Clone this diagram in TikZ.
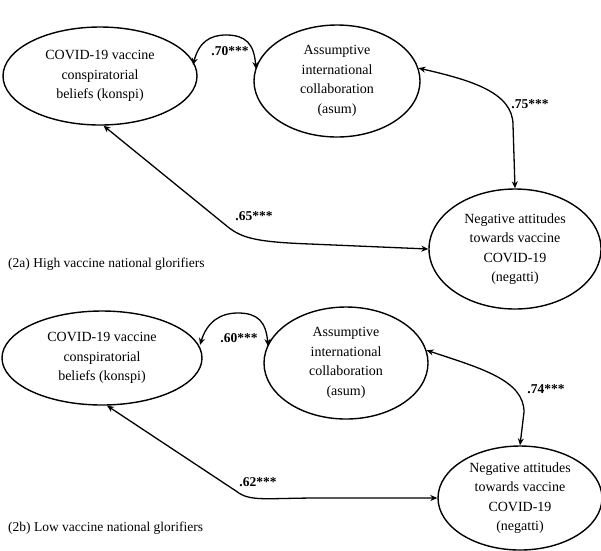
\documentclass[tikz,border=0pt]{standalone}
\usepackage{fontspec}
\setmainfont{Liberation Serif}
\usetikzlibrary{shapes.geometric,arrows.meta}
\tikzset{
  latent/.style={ellipse, draw, line width=1.4pt, inner sep=0pt, align=center,
    font=\fontsize{14}{19.5}\selectfont},
  cov/.style={line width=1.3pt, {Stealth[length=7pt,width=6pt]}-{Stealth[length=7pt,width=6pt]}},
  coef/.style={font=\fontsize{13.5}{15}\selectfont\bfseries, inner sep=0pt},
  capt/.style={font=\fontsize{13.5}{16}\selectfont, anchor=west, inner sep=0pt}
}
\begin{document}
\begin{tikzpicture}[x=1pt,y=-1pt]
\useasboundingbox (0,0) rectangle (601,550);
% ---------- panel 2a ----------
\node[latent, minimum width=194pt, minimum height=98pt] (k1) at (100,76) {COVID-19 vaccine\\conspiratorial\\beliefs (konspi)};
\node[latent, minimum width=166pt, minimum height=112pt] (a1) at (337,81) {Assumptive\\international\\collaboration\\(asum)};
\node[latent, minimum width=172pt, minimum height=120pt] (n1) at (515,249) {Negative attitudes\\towards vaccine\\COVID-19\\(negatti)};
\coordinate (k1e) at (193,65);
\coordinate (a1w) at (256,69);
\draw[cov] (k1e) .. controls (199,42) and (210,35) .. (226,35) .. controls (246,35) and (254,44) .. (a1w);
\draw[cov] (a1.9) .. controls (470,80) and (513,92) .. (513,125) -- (n1.north);
\draw[cov] (k1.-86) -- (228,227) .. controls (242,238) and (256,242) .. (310,244) -- (n1.west);
\node[coef] (c70) at (230,51) {.70***};
\node[coef] (c75) at (530,104) {.75***};
\node[coef] (c65) at (254,216) {.65***};
\node[capt] (cap1) at (8,264) {(2a) High vaccine national glorifiers};
% ---------- panel 2b ----------
\node[latent, minimum width=200pt, minimum height=94pt] (k2) at (102,358) {COVID-19 vaccine\\conspiratorial\\beliefs (konspi)};
\node[latent, minimum width=164pt, minimum height=112pt] (a2) at (346,363) {Assumptive\\international\\collaboration\\(asum)};
\node[latent, minimum width=164pt, minimum height=104pt] (n2) at (520,498) {Negative attitudes\\towards vaccine\\COVID-19\\(negatti)};
\coordinate (k2e) at (200,345);
\coordinate (a2w) at (268,346);
\draw[cov] (k2e) .. controls (207,322) and (220,313) .. (238,313) .. controls (258,313) and (266,322) .. (a2w);
\draw[cov] (a2.9) .. controls (480,368) and (524,380) .. (524,412) -- (n2.north);
\draw[cov] (k2.-84) -- (236,491) .. controls (250,502) and (264,498) .. (320,498) -- (n2.west);
\node[coef] (c60) at (239,338) {.60***};
\node[coef] (c74) at (546,389) {.74***};
\node[coef] (c62) at (258,482) {.62***};
\node[capt] (cap2) at (8,528) {(2b) Low vaccine national glorifiers};
\end{tikzpicture}
\end{document}
